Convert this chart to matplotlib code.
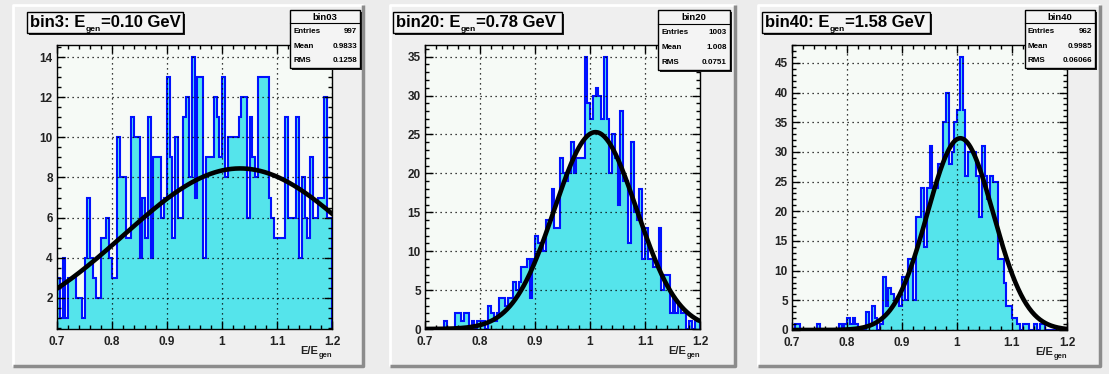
import numpy as np
import matplotlib
matplotlib.use("Agg")
import matplotlib.pyplot as plt
from matplotlib.patches import Rectangle
from matplotlib.ticker import MultipleLocator

plt.rcParams['font.family'] = ['Liberation Sans', 'DejaVu Sans']

W, H = 1109, 374

# Binning of E/E_gen
x_lo, x_hi, n_bins = 0.7, 1.2, 100
edges = np.linspace(x_lo, x_hi, n_bins + 1)

counts_bin03 = [
    3, 1, 4, 1, 3, 3, 3, 2, 2, 1,
    4, 7, 4, 3, 2, 2, 5, 5, 6, 4,
    3, 3, 10, 8, 8, 5, 5, 11, 10, 10,
    4, 7, 5, 11, 4, 9, 9, 9, 6, 7,
    13, 9, 5, 10, 6, 6, 11, 12, 8, 14,
    7, 13, 13, 4, 9, 9, 9, 12, 11, 9,
    13, 8, 10, 10, 10, 10, 11, 12, 12, 6,
    11, 9, 8, 13, 13, 13, 13, 7, 6, 5,
    5, 5, 5, 11, 6, 6, 6, 11, 4, 8,
    6, 5, 9, 6, 6, 7, 7, 12, 6, 6,
]
counts_bin20 = [
    0, 0, 0, 0, 0, 0, 0, 1, 0, 0,
    0, 2, 2, 1, 2, 2, 0, 1, 0, 1,
    1, 1, 0, 3, 2, 1, 2, 4, 4, 3,
    4, 4, 6, 5, 6, 8, 8, 9, 4, 9,
    12, 11, 11, 10, 14, 14, 18, 13, 13, 22,
    20, 19, 20, 24, 20, 22, 22, 22, 35, 29,
    27, 30, 31, 30, 27, 35, 27, 20, 25, 22,
    16, 28, 19, 19, 11, 24, 15, 14, 18, 9,
    13, 9, 9, 8, 8, 13, 5, 7, 7, 2,
    4, 2, 3, 2, 2, 0, 1, 0, 1, 1,
]
counts_bin40 = [
    0, 1, 1, 0, 0, 0, 0, 0, 0, 1,
    0, 0, 0, 0, 0, 0, 0, 1, 0, 1,
    2, 1, 2, 1, 0, 0, 0, 3, 1, 4,
    2, 0, 1, 9, 4, 7, 6, 5, 5, 4,
    9, 5, 12, 12, 5, 19, 19, 24, 14, 24,
    31, 24, 24, 28, 28, 35, 40, 28, 30, 35,
    37, 46, 37, 26, 30, 30, 30, 26, 19, 31,
    26, 22, 26, 25, 25, 12, 12, 8, 4, 4,
    2, 2, 1, 0, 1, 1, 0, 0, 1, 0,
    1, 1, 0, 0, 0, 0, 0, 0, 0, 0,
]
counts = [counts_bin03, counts_bin20, counts_bin40]

bin_labels = ["bin3", "bin20", "bin40"]
e_gen = ["0.10", "0.78", "1.58"]
hist_names = ["bin03", "bin20", "bin40"]
entries = ["997", "1003", "962"]
means = ["0.9833", "1.008", "0.9985"]
rms = ["0.1258", "0.0751", "0.06066"]

# Gaussian fit parameters
fit_amp = [8.45, 25.3, 32.3]
fit_mean = [1.033, 1.010, 1.006]
fit_sigma = [0.212, 0.075, 0.060]

y_limits = [(0.45, 14.6), (0.0, 36.5), (0.0, 48.0)]
y_major = [2, 5, 5]
y_minor = [0.5, 1, 1]

# Pixel layout: pads, frames, title boxes, stat boxes (x0, y0, x1, y1)
pads_px = [(13, 5, 363, 366), (390, 5, 735, 366), (758, 5, 1100, 366)]
frames_px = [(57, 45, 332, 329), (425, 45, 700, 329), (792, 45, 1067, 330)]
title_px = [(27, 12, 183, 33), (393, 12, 562, 33), (762, 12, 930, 33)]
stats_px = [(290, 10, 360, 68), (658, 10, 730, 70), (1025, 10, 1095, 68)]

fig = plt.figure(figsize=(W / 100, H / 100), dpi=100)
fig.patch.set_facecolor('#ececec')
renderer = fig.canvas.get_renderer()

# Background layer for the pads
bg = fig.add_axes([0, 0, 1, 1], zorder=0)
bg.set_xlim(0, W)
bg.set_ylim(H, 0)
bg.axis('off')
for (x0, y0, x1, y1) in pads_px:
    bg.add_patch(Rectangle((x0, y0), x1 - x0, y1 - y0, facecolor='#efefef',
                           edgecolor='none'))
    # bevelled border: light top/left, dark bottom/right
    bg.plot([x0, x0, x1], [y1, y0, y0], color='white', lw=2.0, solid_capstyle='butt')
    bg.plot([x0, x1, x1], [y1, y1, y0], color='#8c8c8c', lw=2.5, solid_capstyle='butt')

for i in range(3):
    x0, y0, x1, y1 = frames_px[i]
    ax = fig.add_axes([x0 / W, 1 - y1 / H, (x1 - x0) / W, (y1 - y0) / H], zorder=1)
    ax.set_facecolor('#f6faf6')
    ax.stairs(counts[i], edges, fill=True, facecolor='#55e4eb', edgecolor='none',
              baseline=0, zorder=1)
    ax.stairs(counts[i], edges, color='#0010ff', lw=1.5, baseline=0, zorder=2)
    xs = np.linspace(x_lo, x_hi, 400)
    ys = fit_amp[i] * np.exp(-0.5 * ((xs - fit_mean[i]) / fit_sigma[i]) ** 2)
    ax.plot(xs, ys, color='black', lw=3.3, zorder=4)
    ax.set_xlim(x_lo, x_hi)
    ax.set_ylim(*y_limits[i])
    ax.xaxis.set_minor_locator(MultipleLocator(0.02))
    ax.yaxis.set_major_locator(MultipleLocator(y_major[i]))
    ax.yaxis.set_minor_locator(MultipleLocator(y_minor[i]))
    ax.set_xticks([0.7, 0.8, 0.9, 1.0, 1.1, 1.2])
    ax.set_xticklabels(['0.7', '0.8', '0.9', '1', '1.1', '1.2'])
    ax.set_axisbelow(False)
    ax.grid(True, which='major', color='black', lw=0.9, linestyle=(0, (1, 3)))
    ax.tick_params(which='both', direction='in', top=True, right=True,
                   width=1.0, color='black')
    ax.tick_params(which='major', length=6)
    ax.tick_params(which='minor', length=3)
    ax.tick_params(axis='x', labelsize=8.5, pad=5)
    ax.tick_params(axis='y', labelsize=8.5, pad=3)
    for lab in ax.get_xticklabels() + ax.get_yticklabels():
        lab.set_fontweight('bold')
        lab.set_color('#222222')
    for lab in ax.get_yticklabels():
        lab.set_verticalalignment('center_baseline')
    for sp in ax.spines.values():
        sp.set_linewidth(1.0)

# Overlay layer for title boxes, stats boxes and axis titles
ov = fig.add_axes([0, 0, 1, 1], zorder=5)
ov.set_xlim(0, W)
ov.set_ylim(H, 0)
ov.axis('off')
ov.patch.set_alpha(0)


def text_width_px(t):
    bb = t.get_window_extent(renderer=renderer)
    return bb.width


def subscript_text(x, y_base, main, sub, tail, size, sub_size, sub_drop, color):
    """Draw main + subscript + tail left to right starting at x (pixel coords)."""
    t1 = ov.text(x, y_base, main, fontsize=size, fontweight='bold', ha='left',
                 va='baseline', color=color)
    x2 = x + text_width_px(t1)
    t2 = ov.text(x2, y_base + sub_drop, sub, fontsize=sub_size, fontweight='bold',
                 ha='left', va='baseline', color=color)
    x3 = x2 + text_width_px(t2)
    if tail:
        ov.text(x3, y_base, tail, fontsize=size, fontweight='bold', ha='left',
                va='baseline', color=color)


for i in range(3):
    # title box with drop shadow
    x0, y0, x1, y1 = title_px[i]
    ov.add_patch(Rectangle((x0 + 2, y0 + 2), x1 - x0, y1 - y0, facecolor='#202020',
                           edgecolor='none'))
    ov.add_patch(Rectangle((x0, y0), x1 - x0, y1 - y0, facecolor='#f4f4f4',
                           edgecolor='black', lw=1.0))
    subscript_text(x0 + 3, y1 - 6, '%s: E' % bin_labels[i], 'gen',
                   '=%s GeV' % e_gen[i], 12, 6.0, 4, 'black')

    # statistics box with drop shadow
    sx0, sy0, sx1, sy1 = stats_px[i]
    ov.add_patch(Rectangle((sx0 + 2, sy0 + 2), sx1 - sx0, sy1 - sy0, facecolor='#202020',
                           edgecolor='none'))
    ov.add_patch(Rectangle((sx0, sy0), sx1 - sx0, sy1 - sy0, facecolor='#f4f4f4',
                           edgecolor='black', lw=1.0))
    row_h = (sy1 - sy0) / 4.3
    ov.plot([sx0, sx1], [sy0 + row_h, sy0 + row_h], color='black', lw=0.8)
    ov.text((sx0 + sx1) / 2, sy0 + row_h / 2 + 0.5, hist_names[i], fontsize=6.8,
            fontweight='bold', ha='center', va='center')
    rows = [("Entries", entries[i]), ("Mean", means[i]), ("RMS", rms[i])]
    for k, (name, val) in enumerate(rows):
        yy = sy0 + row_h * (1.6 + k * 1.08)
        ov.text(sx0 + 3, yy, name, fontsize=5.8, fontweight='bold', ha='left',
                va='center')
        ov.text(sx1 - 3, yy, val, fontsize=5.8, fontweight='bold', ha='right',
                va='center')

    # x-axis title, right-aligned to the frame edge
    fx0, fy0, fx1, fy1 = frames_px[i]
    probe = ov.text(0, 0, 'E/E', fontsize=8, fontweight='bold')
    wa = text_width_px(probe)
    probe2 = ov.text(0, 0, 'gen', fontsize=5.5, fontweight='bold')
    wb = text_width_px(probe2)
    probe.remove()
    probe2.remove()
    subscript_text(fx1 - wa - wb, fy1 + 25, 'E/E', 'gen', '', 8, 5.5, 3, '#222222')

fig.savefig('out.png', dpi=100, facecolor=fig.get_facecolor())
